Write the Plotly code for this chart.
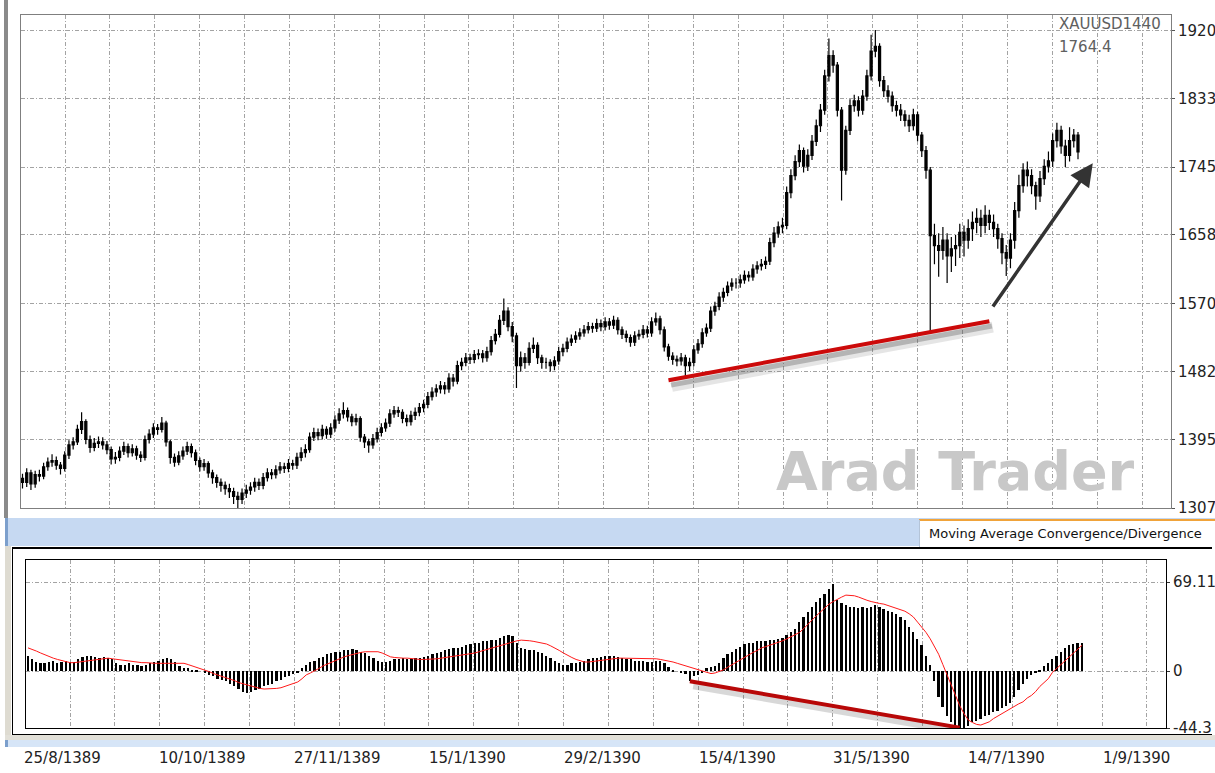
import plotly.graph_objects as go

W, H = 1215, 773

# ---------------- data ----------------
close = [
    1340, 1352, 1338, 1350, 1348, 1360, 1366, 1368, 1362, 1358,
    1375, 1388, 1392, 1408, 1418, 1395, 1385, 1390, 1392, 1388,
    1382, 1370, 1372, 1380, 1386, 1378, 1383, 1375, 1372, 1395,
    1402, 1410, 1408, 1416, 1392, 1372, 1366, 1374, 1380, 1386,
    1378, 1368, 1360, 1364, 1352, 1346, 1340, 1336, 1332, 1328,
    1322, 1318, 1326, 1330, 1334, 1340, 1336, 1346, 1352, 1350,
    1356, 1360, 1358, 1364, 1362, 1372, 1378, 1382, 1398, 1404,
    1400, 1408, 1402, 1410, 1420, 1428, 1432, 1424, 1418, 1422,
    1398, 1392, 1388, 1396, 1404, 1410, 1416, 1428, 1432, 1430,
    1422, 1418, 1426, 1430, 1436, 1440, 1450, 1456, 1460, 1464,
    1460, 1474, 1470, 1490, 1494, 1500, 1498, 1504, 1505, 1500,
    1508, 1522, 1530, 1548, 1560, 1540, 1528, 1490, 1500, 1494,
    1512, 1516, 1500, 1494, 1494, 1490, 1496, 1508, 1512, 1520,
    1524, 1528, 1532, 1536, 1540, 1538, 1544, 1540, 1546, 1542,
    1548, 1536, 1530, 1526, 1520, 1528, 1530, 1536, 1532, 1546,
    1550, 1536, 1514, 1502, 1498, 1496, 1500, 1490, 1494, 1510,
    1518, 1532, 1538, 1560, 1566, 1578, 1584, 1592, 1596, 1596,
    1600, 1606, 1604, 1614, 1618, 1620, 1624, 1648, 1660, 1668,
    1670, 1712, 1734, 1752, 1766, 1746, 1760, 1778, 1798, 1818,
    1862, 1888, 1876, 1818, 1741, 1792, 1824, 1830, 1818, 1836,
    1862, 1894, 1900, 1856, 1843, 1836, 1824, 1818, 1812, 1805,
    1798, 1812, 1786, 1766, 1741, 1657, 1644, 1638, 1651, 1631,
    1640, 1644, 1661, 1651, 1666, 1674, 1679, 1670, 1683, 1674,
    1666, 1653, 1635, 1628, 1651, 1689, 1721, 1741, 1734, 1721,
    1708, 1730, 1746, 1753, 1779, 1792, 1772, 1760, 1779, 1786,
    1764.4,
]
high = [
    1351, 1358, 1356, 1355, 1356, 1365, 1372, 1376, 1373, 1366,
    1380, 1394, 1398, 1414, 1430, 1421, 1400, 1397, 1399, 1398,
    1393, 1386, 1379, 1386, 1392, 1390, 1389, 1387, 1380, 1400,
    1408, 1416, 1415, 1424, 1419, 1395, 1377, 1380, 1386, 1392,
    1390, 1382, 1372, 1370, 1367, 1356, 1350, 1345, 1341, 1338,
    1333, 1328, 1332, 1337, 1340, 1346, 1345, 1352, 1358, 1357,
    1362, 1366, 1365, 1370, 1369, 1378, 1385, 1389, 1404, 1410,
    1409, 1414, 1412, 1416, 1426, 1435, 1443, 1436, 1428, 1428,
    1425, 1402, 1396, 1402, 1410, 1416, 1422, 1434, 1438, 1437,
    1434, 1427, 1432, 1436, 1442, 1446, 1456, 1462, 1466, 1470,
    1469, 1480, 1479, 1496, 1500, 1506, 1505, 1510, 1511, 1510,
    1514, 1528, 1537, 1555, 1576, 1565, 1546, 1532, 1508, 1506,
    1520, 1526, 1520, 1504, 1500, 1498, 1502, 1514, 1518, 1526,
    1530, 1534, 1538, 1542, 1546, 1545, 1550, 1549, 1552, 1551,
    1554, 1552, 1540, 1535, 1530, 1534, 1536, 1542, 1541, 1552,
    1558, 1554, 1540, 1518, 1507, 1503, 1506, 1504, 1500, 1516,
    1524, 1538, 1544, 1566, 1572, 1584, 1590, 1598, 1602, 1602,
    1607, 1612, 1611, 1620, 1624, 1627, 1630, 1654, 1668, 1675,
    1680, 1720, 1742, 1760, 1774, 1770, 1768, 1786, 1806, 1826,
    1870, 1910, 1895, 1880, 1822, 1798, 1832, 1838, 1836, 1844,
    1870, 1915, 1921, 1904, 1862, 1850, 1842, 1830, 1826, 1818,
    1812, 1820, 1816, 1790, 1772, 1745, 1672, 1660, 1668, 1660,
    1655, 1658, 1672, 1670, 1678, 1688, 1692, 1690, 1696, 1690,
    1684, 1672, 1660, 1645, 1660, 1700, 1735, 1750, 1752, 1742,
    1726, 1740, 1755, 1765, 1788, 1802, 1798, 1780, 1796, 1794,
    1790,
]
low = [
    1332, 1334, 1330, 1333, 1341, 1344, 1355, 1360, 1356, 1350,
    1354, 1370, 1382, 1388, 1402, 1389, 1378, 1380, 1384, 1382,
    1376, 1363, 1364, 1367, 1375, 1372, 1373, 1369, 1366, 1368,
    1390, 1397, 1401, 1404, 1386, 1364, 1360, 1362, 1369, 1375,
    1372, 1362, 1354, 1355, 1346, 1338, 1333, 1328, 1324, 1320,
    1312, 1307, 1312, 1320, 1324, 1328, 1330, 1331, 1341, 1344,
    1345, 1351, 1352, 1353, 1356, 1357, 1367, 1372, 1378, 1393,
    1394, 1395, 1396, 1397, 1405, 1415, 1422, 1418, 1412, 1413,
    1392, 1384, 1378, 1383, 1391, 1399, 1405, 1411, 1423, 1424,
    1416, 1412, 1413, 1420, 1425, 1430, 1435, 1445, 1450, 1454,
    1453, 1455, 1463, 1466, 1484, 1489, 1492, 1493, 1498, 1494,
    1495, 1503, 1517, 1526, 1542, 1534, 1520, 1461, 1482, 1486,
    1490, 1506, 1492, 1486, 1486, 1482, 1484, 1491, 1502, 1507,
    1515, 1519, 1523, 1527, 1531, 1532, 1533, 1534, 1535, 1536,
    1537, 1530, 1524, 1520, 1514, 1515, 1523, 1525, 1526, 1527,
    1541, 1530, 1508, 1496, 1491, 1489, 1490, 1475, 1483, 1489,
    1505, 1513, 1527, 1533, 1554, 1561, 1572, 1579, 1586, 1589,
    1590, 1595, 1598, 1599, 1608, 1612, 1614, 1619, 1642, 1654,
    1660, 1665, 1705, 1728, 1745, 1738, 1740, 1754, 1772, 1790,
    1812, 1855, 1866, 1810, 1702, 1735, 1786, 1816, 1810, 1812,
    1830, 1856, 1886, 1848, 1835, 1828, 1816, 1810, 1804, 1797,
    1790, 1792, 1778, 1758, 1730, 1533, 1620, 1604, 1626, 1596,
    1610, 1618, 1628, 1630, 1640, 1650, 1660, 1655, 1660, 1664,
    1655, 1640, 1620, 1605, 1615, 1640, 1680, 1712, 1720, 1710,
    1690, 1700, 1722, 1738, 1745, 1770, 1762, 1745, 1752, 1770,
    1755,
]
open_ = [1345] + close[:-1]          # each bar opens at the previous close

macd_hist = [
    12, 9, 7, 6, 6, 7, 8, 6, 7, 8,
    7, 7, 9, 11, 12, 12, 11, 10, 11, 10,
    9, 6, 5, 5, 6, 5, 5, 4, 5, 6,
    7, 8, 9, 10, 9, 7, 4, 2, 2, 1,
    1, 0, -1, -3, -4, -6, -7, -8, -10, -12,
    -14, -16, -17, -16, -15, -14, -12, -11, -10, -8,
    -7, -5, -4, -2, -1, 2, 5, 7, 8, 10,
    11, 13, 14, 15, 15, 16, 16, 17, 16, 15,
    14, 12, 10, 8, 7, 7, 8, 9, 9, 10,
    9, 9, 10, 10, 11, 12, 13, 14, 15, 16,
    17, 18, 18, 19, 20, 21, 22, 22, 23, 23,
    24, 24, 26, 27, 28, 27, 22, 18, 17, 16,
    16, 15, 14, 12, 10, 8, 6, 5, 5, 6,
    6, 7, 8, 9, 10, 10, 11, 12, 12, 12,
    11, 10, 9, 9, 8, 8, 8, 7, 7, 8,
    8, 6, 3, 1, 0, -1, -2, -8, -4, -3,
    -1, 2, 3, 4, 6, 10, 13, 15, 17, 19,
    21, 22, 22, 23, 23, 23, 24, 24, 25, 26,
    28, 30, 33, 38, 42, 46, 50, 54, 57, 60,
    64, 68, 55, 53, 51, 50, 50, 49, 50, 49,
    50, 51, 50, 48, 47, 46, 44, 42, 40, 34,
    30, 25, 20, 12, 5, -8, -20, -28, -35, -40,
    -43, -44, -44, -43, -40, -39, -37, -35, -34, -32,
    -31, -29, -27, -25, -20, -15, -10, -6, -3, -1,
    1, 4, 6, 9, 12, 15, 18, 20, 21, 22,
    22,
]
macd_signal = [
    18, 17, 15.5, 14, 12.5, 11, 10, 9, 8, 7,
    6.5, 6.5, 7, 7.5, 8, 8.5, 9, 9.5, 10, 10,
    9.5, 9, 8.5, 8, 7.5, 7, 7, 6.5, 6.5, 6,
    6, 6, 6, 6.5, 6.5, 6.5, 6, 6, 5, 4,
    3, 2, 1, -0.5, -2, -3, -4.5, -5.5, -6.5, -7.5,
    -9, -10, -11, -12, -13, -13.5, -14, -14, -14, -13.5,
    -13, -12, -11, -10, -8.5, -6, -3, -1.5, 0, 2,
    4, 5.5, 7, 8.5, 10, 11, 12, 13, 14, 14.5,
    15, 15, 15, 15, 14, 12.5, 11, 10.5, 10, 10,
    10, 9.5, 9.5, 9, 9, 9, 9, 9.5, 10, 10.5,
    11, 11.5, 12, 12.5, 13, 13, 14, 15, 16, 17,
    18, 19, 20, 21, 22, 23, 23.5, 24, 24, 23.5,
    23, 22.5, 22, 21, 19.5, 18, 16, 14, 12, 10.5,
    9, 8, 7, 7, 7.5, 8, 8.5, 9, 9, 9.5,
    10, 10, 10, 10, 10, 10, 10, 10, 9.5, 9.5,
    9, 8.5, 8, 7, 6, 5, 4, 3, 2, 1,
    0, -1, -2, -1.5, -0.5, 1, 3, 5, 7, 9,
    11, 13, 14.5, 16, 18, 19, 20, 21, 22, 23.5,
    25, 26.5, 28, 30, 33, 36.5, 40, 43, 46, 49,
    52, 54, 56, 57.5, 59, 59, 58.5, 57.5, 56, 55,
    54, 53, 52.5, 52, 51, 50, 49, 48, 46.5, 44.5,
    42, 38, 34, 30, 25, 19, 13, 5, -3, -12,
    -20, -27, -33, -38, -40, -41.5, -42, -41, -39.5, -37,
    -35, -33, -31, -29, -27, -25.5, -24, -21, -19, -16,
    -12, -9, -6, -1, 2, 5, 8, 11, 14, 17,
    20,
]

price_ticks = [1307, 1395, 1482, 1570, 1658, 1745, 1833, 1920]
macd_ticks = [-44.3, 0, 69.11]
macd_tick_text = ["-44.3", "0", "69.11"]
date_labels = ["25/8/1389", "10/10/1389", "27/11/1389", "15/1/1390", "29/2/1390",
               "15/4/1390", "31/5/1390", "14/7/1390", "1/9/1390"]
date_bars = [0, 32, 64, 96, 128, 160, 192, 224, 256]
symbol_text = "XAUUSD1440"
last_price_text = "1764.4"
watermark = "Arad Trader"
panel_title = "Moving Average Convergence/Divergence"

# trendlines drawn by the analyst: anchored on data points
price_anchor_bars = [157, 215]      # lows touched by the red support line
price_line_span = [153, 229]
macd_anchor_bars = [157, 221]       # MACD troughs joined by the red line
arrow_from = (229.6, 1564)
arrow_to = (253.5, 1750)

# ---------------- geometry helpers ----------------
def px_x(p):
    return p / W

def px_y(p):
    return 1 - p / H

MAIN_BAR0, MAIN_STEP = 22.5, 4.222
MACD_BAR0, MACD_STEP = 28.0, 4.216
PRICE_PER_PX = (1920 - 1307) / (508 - 30.8)

def main_bar(p):
    return (p - MAIN_BAR0) / MAIN_STEP

def macd_bar(p):
    return (p - MACD_BAR0) / MACD_STEP

grid_main = [main_bar(65 + 44.875 * k) for k in range(25)]
grid_macd = [macd_bar(70 + 44.87 * k) for k in range(25)]

FONT = "DejaVu Sans"
GRID = dict(showgrid=True, gridcolor="#a3a3a3", gridwidth=1, griddash="4px,2px,1px,2px")

bars = list(range(len(close)))
mbars = list(range(len(macd_hist)))
sbars = list(range(len(macd_signal)))

fig = go.Figure()

# price candles
fig.add_trace(go.Candlestick(
    x=bars, open=open_, high=high, low=low, close=close,
    increasing=dict(line=dict(color="#000000", width=1.2), fillcolor="#000000"),
    decreasing=dict(line=dict(color="#000000", width=1.2), fillcolor="#000000"),
    whiskerwidth=0, xaxis="x", yaxis="y", hoverinfo="skip",
))

# red support line in price panel (through two lows)
a, b = price_anchor_bars
slope = (low[b] - low[a]) / (b - a)
tl_x = price_line_span
tl_y = [low[a] + slope * (x - a) for x in tl_x]
sh_dy = 6 * PRICE_PER_PX
fig.add_trace(go.Scatter(x=[x + 0.8 for x in tl_x], y=[y - sh_dy for y in tl_y], mode="lines",
                         line=dict(color="rgba(110,110,110,0.18)", width=11), xaxis="x", yaxis="y"))
fig.add_trace(go.Scatter(x=[x + 0.6 for x in tl_x], y=[y - sh_dy * 0.8 for y in tl_y], mode="lines",
                         line=dict(color="rgba(90,90,90,0.35)", width=5), xaxis="x", yaxis="y"))
fig.add_trace(go.Scatter(x=tl_x, y=tl_y, mode="lines",
                         line=dict(color="#cc0a0a", width=4), xaxis="x", yaxis="y"))

# MACD histogram + signal
fig.add_trace(go.Bar(x=mbars, y=macd_hist, width=0.42, marker=dict(color="#000000", line=dict(width=0)),
                     xaxis="x2", yaxis="y2", hoverinfo="skip"))
fig.add_trace(go.Scatter(x=sbars, y=macd_signal, mode="lines", line=dict(color="#ff1a1a", width=1),
                         xaxis="x2", yaxis="y2", hoverinfo="skip"))

# red line in MACD panel
ma, mb = macd_anchor_bars
m_x = [ma, mb]
m_y = [macd_hist[ma], macd_hist[mb]]
fig.add_trace(go.Scatter(x=[x + 0.8 for x in m_x], y=[y - 3.5 for y in m_y], mode="lines",
                         line=dict(color="rgba(100,100,100,0.25)", width=7), xaxis="x2", yaxis="y2"))
fig.add_trace(go.Scatter(x=m_x, y=m_y, mode="lines", line=dict(color="#b80808", width=4),
                         xaxis="x2", yaxis="y2"))

# ---------------- chrome (window decoration) ----------------
shapes = []

def rect(x0, y0, x1, y1, color, layer="below"):
    shapes.append(dict(type="rect", xref="paper", yref="paper", x0=px_x(x0), x1=px_x(x1),
                       y0=px_y(y1), y1=px_y(y0), fillcolor=color, line=dict(width=0), layer=layer))

def hline(x0, x1, y, color, width=1):
    shapes.append(dict(type="line", xref="paper", yref="paper", x0=px_x(x0), x1=px_x(x1),
                       y0=px_y(y), y1=px_y(y), line=dict(color=color, width=width), layer="above"))

def vline(x, y0, y1, color, width=1):
    shapes.append(dict(type="line", xref="paper", yref="paper", x0=px_x(x), x1=px_x(x),
                       y0=px_y(y0), y1=px_y(y1), line=dict(color=color, width=width), layer="above"))

rect(4, 0, 8, 518, "#8a8a8a")                 # window edge
rect(5, 518, 1215, 546, "#c6d9f2")            # blue tab band
rect(5, 518, 8, 546, "#7c9fcc")
rect(919, 519, 1215, 548, "#ffffff")          # active tab
hline(919, 1215, 520, "#f0a33a", 2)
vline(919.5, 520, 547, "#b4c4d8", 1)
rect(5, 546, 11, 738, "#dedbd1")              # panel frame (beige)
rect(5, 735, 1215, 740, "#e2e0d8")
rect(5, 740, 1215, 747, "#d6e5f7")            # bottom blue strip
rect(5, 740, 8, 747, "#7c9fcc")
hline(12, 1212, 548, "#000000", 2)            # panel outer frame
vline(12.5, 548, 735, "#000000", 1)
hline(12, 1212, 734.5, "#000000", 1)

annotations = []

def text(x, y, s, size=15, color="#222222", xanchor="left", **kw):
    annotations.append(dict(xref="paper", yref="paper", x=px_x(x), y=px_y(y), text=s,
                            showarrow=False, xanchor=xanchor, yanchor="middle",
                            font=dict(family=FONT, size=size, color=color, **kw)))

text(1057, 24, symbol_text, 15, "#606060")
text(1057, 47, last_price_text, 15, "#606060")
text(927, 533, panel_title, 13, "#111111")
annotations.append(dict(xref="paper", yref="paper", x=px_x(955), y=px_y(471), text=watermark,
                        showarrow=False, xanchor="center", yanchor="middle",
                        font=dict(family=FONT, size=54, color="#c8c8c8", weight="bold")))

for lbl, bar in zip(date_labels, date_bars):
    annotations.append(dict(xref="x2", yref="paper", x=bar, y=px_y(758), text=lbl, showarrow=False,
                            xanchor="left", yanchor="middle", xshift=-6,
                            font=dict(family=FONT, size=15, color="#222222")))

# black arrow
annotations.append(dict(xref="x", yref="y", axref="x", ayref="y",
                        x=arrow_to[0], y=arrow_to[1], ax=arrow_from[0], ay=arrow_from[1],
                        text="", showarrow=True, arrowhead=2, arrowsize=1.3, arrowwidth=3.5,
                        arrowcolor="#333333"))

fig.update_layout(
    width=W, height=H, autosize=False,
    margin=dict(l=0, r=0, t=0, b=0, pad=0, autoexpand=False),
    paper_bgcolor="#ffffff", plot_bgcolor="#ffffff",
    showlegend=False, hovermode=False, bargap=0,
    shapes=shapes, annotations=annotations,
    xaxis=dict(domain=[px_x(21), px_x(1171)], range=[main_bar(21), main_bar(1171)],
               tickvals=grid_main, showticklabels=False, ticks="", zeroline=False,
               showline=True, linecolor="#7f7f7f", linewidth=1, mirror=True, automargin=False,
               rangeslider=dict(visible=False), anchor="y", **GRID),
    yaxis=dict(domain=[px_y(508), px_y(15)], range=[1307, 1307 + (508 - 15) * PRICE_PER_PX],
               side="right", tickvals=price_ticks, ticktext=[str(v) for v in price_ticks],
               ticks="outside", ticklen=3, tickcolor="#555555", zeroline=False, automargin=False,
               showline=True, linecolor="#7f7f7f", linewidth=1, mirror=True, anchor="x",
               tickfont=dict(family=FONT, size=15, color="#222222"), **GRID),
    xaxis2=dict(domain=[px_x(26), px_x(1166)], range=[macd_bar(26), macd_bar(1166)],
                tickvals=grid_macd, showticklabels=False, ticks="", zeroline=False,
                showline=True, linecolor="#000000", linewidth=1, mirror=True, automargin=False,
                rangeslider=dict(visible=False), anchor="y2", **GRID),
    yaxis2=dict(domain=[px_y(728), px_y(560)], range=[-44.3, 86.3],
                side="right", tickvals=macd_ticks, ticktext=macd_tick_text,
                ticks="outside", ticklen=3, tickcolor="#333333", zeroline=False, automargin=False,
                showline=True, linecolor="#000000", linewidth=1, mirror=True, anchor="x2",
                tickfont=dict(family=FONT, size=15, color="#222222"), **GRID),
)

fig.write_html(
    "out.html",
    config={"displayModeBar": False, "responsive": False},
    post_script="document.body.style.margin='0';document.body.style.padding='0';"
                "document.body.style.overflow='hidden';",
)
